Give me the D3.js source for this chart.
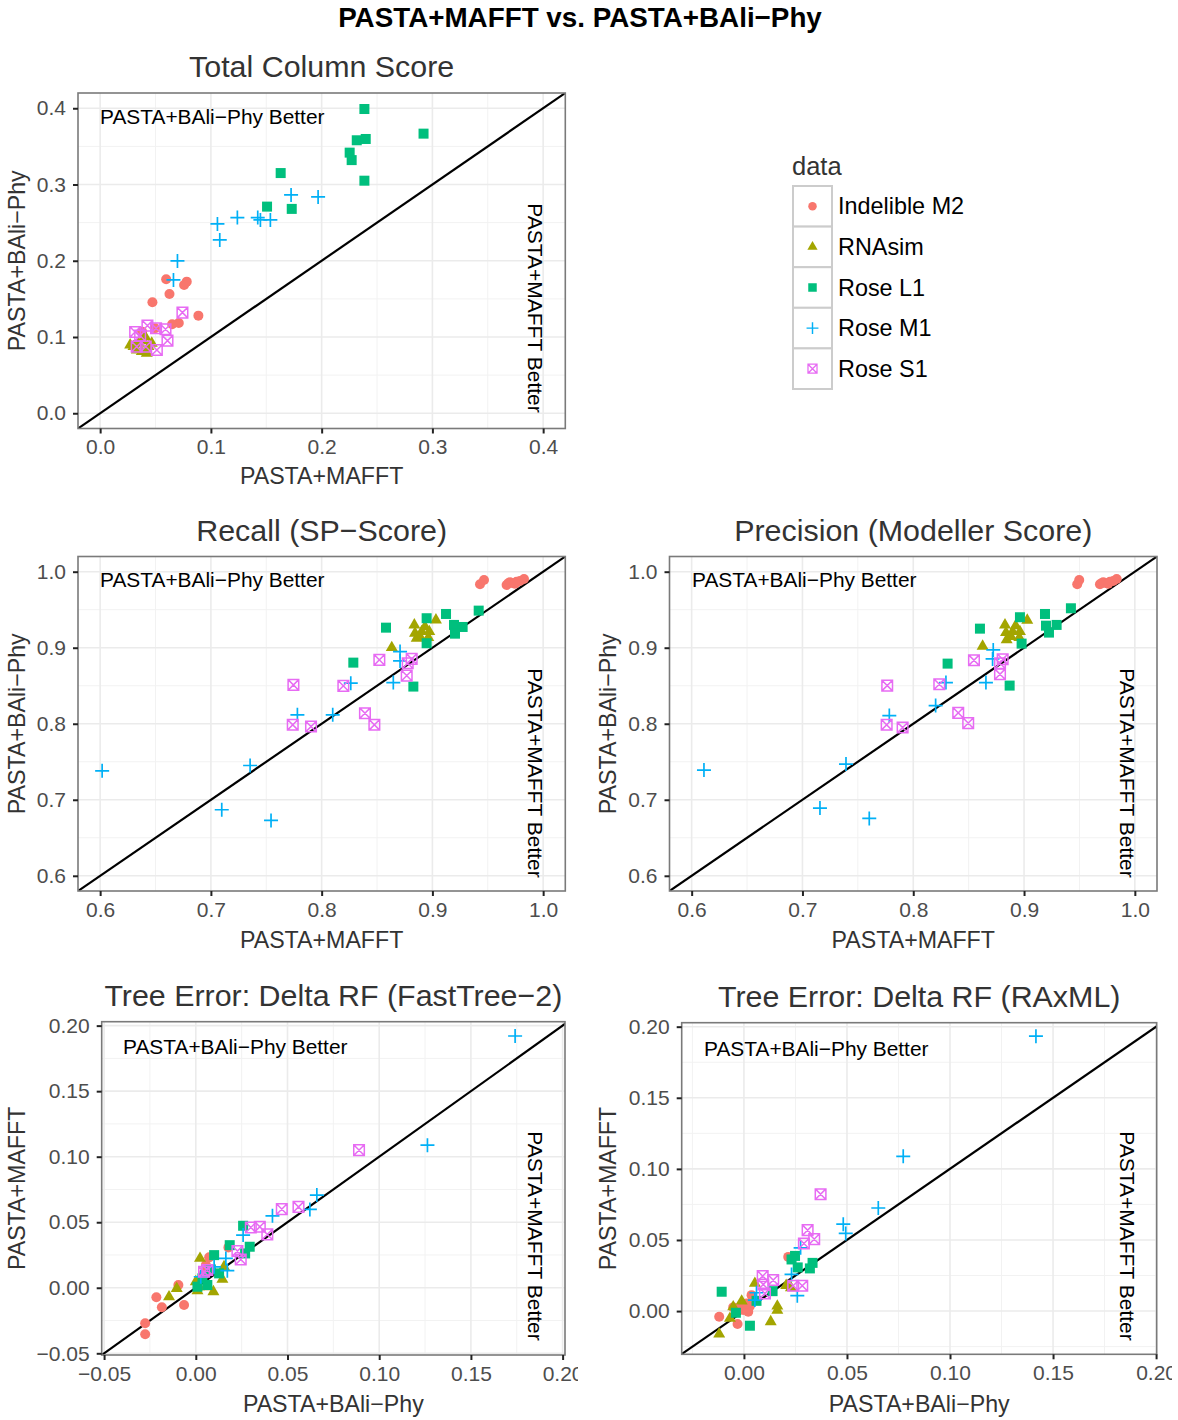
<!DOCTYPE html>
<html>
<head>
<meta charset="utf-8">
<script src="https://cdn.jsdelivr.net/npm/d3@7"></script>
<style>
  html, body { margin: 0; padding: 0; background: #fff; }
  svg { display: block; font-family: "Liberation Sans", Arial, Helvetica, sans-serif; }
</style>
</head>
<body>
<svg id="chart" width="1178" height="1420"></svg>
<script>
// ---- series ----
const seriesNames = ["Indelible M2", "RNAsim", "Rose L1", "Rose M1", "Rose S1"];
const seriesColors = ["#F8766D", "#A3A500", "#00BF7D", "#00B0F6", "#E76BF3"];
const seriesShapes = ["circle", "triangle", "square", "plus", "boxcross"];

// ---- Total Column Score: [PASTA+MAFFT, PASTA+BAli-Phy] ----
const tcM2 = [[0.0596,0.1757],[0.0782,0.1726],[0.0758,0.1683],[0.0626,0.1565],[0.0472,0.1456],
              [0.0887,0.1280],[0.0710,0.1184],[0.0650,0.1167],[0.0496,0.1115],[0.0379,0.1070]];
const tcRNA = [[0.0301,0.0874],[0.0346,0.0918],[0.0391,0.0952],[0.0421,0.0787],[0.0376,0.0808],
               [0.0331,0.0830],[0.0436,0.0874],[0.0466,0.0918],[0.0406,0.1005],[0.0271,0.0896]];
const tcL1 = [[0.2386,0.3990],[0.2920,0.3667],[0.2317,0.3580],[0.2398,0.3597],[0.2253,0.3418],
              [0.2271,0.3320],[0.1630,0.3150],[0.2386,0.3050],[0.1507,0.2710],[0.1730,0.2680]];
const tcM1 = [[0.1724,0.2863],[0.1968,0.2837],[0.1239,0.2566],[0.1423,0.2566],[0.1447,0.2535],
              [0.1537,0.2535],[0.1059,0.2483],[0.1080,0.2273],[0.0698,0.1998],[0.0662,0.1748]];
const tcS1 = [[0.0743,0.1320],[0.0427,0.1149],[0.0505,0.1115],[0.0590,0.1102],[0.0316,0.1066],
              [0.0361,0.1018],[0.0608,0.0952],[0.0330,0.0874],[0.0412,0.0874],[0.0512,0.0830]];

// ---- Recall (SP-Score) ----
const spM2 = [[0.9430,0.9834],[0.9466,0.9890],[0.9670,0.9825],[0.9700,0.9860],[0.9730,0.9847],
              [0.9760,0.9869],[0.9790,0.9878],[0.9827,0.9904],[0.9685,0.9847],[0.9745,0.9842]];
const spRNA = [[0.9032,0.9365],[0.8837,0.9300],[0.8933,0.9277],[0.8843,0.9191],[0.8903,0.9212],
               [0.8972,0.9212],[0.8858,0.9125],[0.8963,0.9133],[0.8633,0.9001],[0.8888,0.9146]];
const spL1 = [[0.9123,0.9444],[0.9418,0.9488],[0.8948,0.9388],[0.8581,0.9264],[0.9195,0.9300],
              [0.9273,0.9273],[0.9204,0.9185],[0.8948,0.9059],[0.8286,0.8804],[0.8828,0.8489]];
const spM1 = [[0.6018,0.7381],[0.7354,0.7451],[0.7098,0.6869],[0.7543,0.6728],[0.7781,0.8117],
              [0.8100,0.8117],[0.8263,0.8534],[0.8647,0.8542],[0.8708,0.8949],[0.8708,0.8827]];
const spS1 = [[0.7745,0.8511],[0.8521,0.8840],[0.8196,0.8498],[0.7739,0.7986],[0.7904,0.7963],
              [0.8391,0.8139],[0.8476,0.7986],[0.8813,0.8853],[0.8777,0.8796],[0.8768,0.8633]];

// ---- Precision (Modeller Score) ----
const prM2 = [[0.9480,0.9834],[0.9498,0.9890],[0.9685,0.9834],[0.9715,0.9860],[0.9745,0.9847],
              [0.9775,0.9869],[0.9805,0.9878],[0.9836,0.9904],[0.9700,0.9847],[0.9760,0.9842]];
const prRNA = [[0.9029,0.9361],[0.8828,0.9300],[0.8924,0.9290],[0.8837,0.9199],[0.8897,0.9212],
               [0.8963,0.9212],[0.8843,0.9103],[0.8957,0.9133],[0.8626,0.9020],[0.8882,0.9146]];
const prL1 = [[0.9189,0.9444],[0.9423,0.9519],[0.8963,0.9401],[0.8602,0.9251],[0.9198,0.9290],
              [0.9294,0.9300],[0.9225,0.9199],[0.8978,0.9054],[0.8310,0.8791],[0.8870,0.8502]];
const prM1 = [[0.6111,0.7390],[0.7393,0.7469],[0.7158,0.6891],[0.7603,0.6754],[0.7784,0.8108],
              [0.8202,0.8239],[0.8295,0.8542],[0.8656,0.8542],[0.8722,0.8971],[0.8716,0.8853]];
const prS1 = [[0.7765,0.8502],[0.8548,0.8836],[0.8235,0.8520],[0.7760,0.7986],[0.7904,0.7950],
              [0.8406,0.8143],[0.8496,0.8008],[0.8807,0.8849],[0.8783,0.8796],[0.8783,0.8652]];

// ---- Delta RF, FastTree-2: [PASTA+BAli-Phy, PASTA+MAFFT] ----
const ftM2 = [[-0.0276,-0.0355],[-0.0276,-0.0271],[-0.0215,-0.0073],[-0.0185,-0.0149],[-0.0095,0.0021],
              [-0.0064,-0.0132],[0.0178,0.0308],[0.0073,0.0232],[0.0055,0.0173],[0.0045,0.0110]];
const ftRNA = [[0.0023,0.0224],[0.0154,0.0160],[0.0145,0.0064],[0.0000,0.0046],[0.0009,-0.0023],
               [0.0096,-0.0030],[-0.0104,-0.0005],[-0.0146,-0.0069],[0.0063,0.0008],[0.0018,0.0008]];
const ftL1 = [[0.0258,0.0473],[0.0185,0.0325],[0.0294,0.0313],[0.0100,0.0249],[0.0269,0.0262],
              [0.0127,0.0110],[0.0036,0.0072],[0.0063,0.0021],[0.0009,0.0008],[0.0082,0.0140]];
const ftM1 = [[0.1741,0.1921],[0.1263,0.1088],[0.0660,0.0707],[0.0622,0.0598],[0.0418,0.0549],
              [0.0258,0.0402],[0.0164,0.0224],[0.0100,0.0160],[0.0172,0.0130],[0.0027,0.0084]];
const ftS1 = [[0.0890,0.1050],[0.0469,0.0600],[0.0560,0.0617],[0.0300,0.0460],[0.0349,0.0465],
              [0.0390,0.0407],[0.0227,0.0280],[0.0245,0.0216],[0.0063,0.0135],[0.0045,0.0122]];

// ---- Delta RF, RAxML: [PASTA+BAli-Phy, PASTA+MAFFT] ----
const rxM2 = [[-0.0120,-0.0040],[-0.0031,-0.0091],[-0.0052,0.0026],[-0.0011,0.0030],[0.0021,-0.0005],
              [0.0029,0.0035],[0.0037,0.0112],[0.0215,0.0381],[-0.0003,0.0007],[0.0013,0.0054]];
const rxRNA = [[0.0053,0.0195],[0.0228,0.0164],[-0.0011,0.0070],[-0.0052,0.0030],[-0.0068,-0.0051],
               [-0.0120,-0.0162],[0.0162,0.0035],[0.0162,0.0005],[0.0130,-0.0075],[0.0205,0.0180]];
const rxL1 = [[0.0248,0.0388],[0.0231,0.0363],[0.0261,0.0307],[0.0333,0.0339],[0.0320,0.0300],
              [0.0139,0.0140],[-0.0108,0.0136],[0.0061,0.0072],[-0.0039,-0.0012],[0.0029,-0.0103]];
const rxM1 = [[0.1417,0.1933],[0.0773,0.1088],[0.0652,0.0725],[0.0482,0.0611],[0.0494,0.0546],
              [0.0275,0.0445],[0.0231,0.0258],[0.0259,0.0108],[0.0061,0.0129],[0.0053,0.0077]];
const rxS1 = [[0.0372,0.0822],[0.0309,0.0569],[0.0341,0.0506],[0.0291,0.0475],[0.0091,0.0246],
              [0.0142,0.0218],[0.0094,0.0187],[0.0239,0.0178],[0.0283,0.0178],[0.0102,0.0124]];

// ---- tick values ----
const ticksTC = [0.0, 0.1, 0.2, 0.3, 0.4];
const ticksScore = [0.6, 0.7, 0.8, 0.9, 1.0];
const ticksFTx = [-0.05, 0.00, 0.05, 0.10, 0.15, 0.20];
const ticksFTy = [-0.05, 0.00, 0.05, 0.10, 0.15, 0.20];
const ticksRXx = [0.00, 0.05, 0.10, 0.15, 0.20];
const ticksRXy = [0.00, 0.05, 0.10, 0.15, 0.20];

// ---- panel layout ----
const panels = [
  { title: "Total Column Score", series: [tcM2, tcRNA, tcL1, tcM1, tcS1],
    xDom: [-0.02, 0.42], yDom: [-0.02, 0.42], left: 78, right: 565.3, top: 93, bottom: 428.5,
    xTicks: ticksTC, yTicks: ticksTC, fmt: d3.format(".1f"),
    xTitle: "PASTA+MAFFT", yTitle: "PASTA+BAli\u2212Phy", yTitleX: 17, xTitleY: 484,
    betterX: 100, betterY: 117, sideX: 535, sideY: 308, clipW: 578 },
  { title: "Recall (SP\u2212Score)", series: [spM2, spRNA, spL1, spM1, spS1],
    xDom: [0.58, 1.02], yDom: [0.58, 1.02], left: 78, right: 565.3, top: 556.5, bottom: 891,
    xTicks: ticksScore, yTicks: ticksScore, fmt: d3.format(".1f"),
    xTitle: "PASTA+MAFFT", yTitle: "PASTA+BAli\u2212Phy", yTitleX: 17, xTitleY: 948,
    betterX: 100, betterY: 580, sideX: 535, sideY: 773, clipW: 578 },
  { title: "Precision (Modeller Score)", series: [prM2, prRNA, prL1, prM1, prS1],
    xDom: [0.58, 1.02], yDom: [0.58, 1.02], left: 669.5, right: 1157, top: 556.5, bottom: 891,
    xTicks: ticksScore, yTicks: ticksScore, fmt: d3.format(".1f"),
    xTitle: "PASTA+MAFFT", yTitle: "PASTA+BAli\u2212Phy", yTitleX: 608, xTitleY: 948,
    betterX: 692, betterY: 580, sideX: 1127, sideY: 773, clipW: 1172 },
  { title: "Tree Error: Delta RF (FastTree\u22122)", series: [ftM2, ftRNA, ftL1, ftM1, ftS1],
    xDom: [-0.0513, 0.2013], yDom: [-0.0513, 0.203], left: 101.7, right: 565, top: 1021.7, bottom: 1355,
    xTicks: ticksFTx, yTicks: ticksFTy, fmt: d3.format(".2f"),
    xTitle: "PASTA+BAli\u2212Phy", yTitle: "PASTA+MAFFT", yTitleX: 17, xTitleY: 1412,
    betterX: 123, betterY: 1047, sideX: 535, sideY: 1236, clipW: 578 },
  { title: "Tree Error: Delta RF (RAxML)", series: [rxM2, rxRNA, rxL1, rxM1, rxS1],
    xDom: [-0.0302, 0.2003], yDom: [-0.0304, 0.2028], left: 681.7, right: 1156.7, top: 1022.7, bottom: 1354.3,
    xTicks: ticksRXx, yTicks: ticksRXy, fmt: d3.format(".2f"),
    xTitle: "PASTA+BAli\u2212Phy", yTitle: "PASTA+MAFFT", yTitleX: 608, xTitleY: 1412,
    betterX: 704, betterY: 1049, sideX: 1127, sideY: 1236, clipW: 1172 }
];

const svg = d3.select("#chart");
const defs = svg.append("defs");
const fmtMinus = f => v => f(v).replace("-", "\u2212");

// ---- point glyphs (ggplot shapes 16, 17, 15, 3, 7) ----
function drawGlyph(g, shape, color, k) {
  if (shape === "circle") {
    g.append("circle").attr("r", 5 * k).attr("fill", color);
  } else if (shape === "triangle") {
    const s = 12 * k, h = s * Math.sqrt(3) / 2;
    g.append("path").attr("d", `M0,${-h * 2 / 3}L${s / 2},${h / 3}L${-s / 2},${h / 3}Z`).attr("fill", color);
  } else if (shape === "square") {
    const s = 10 * k;
    g.append("rect").attr("x", -s / 2).attr("y", -s / 2).attr("width", s).attr("height", s).attr("fill", color);
  } else if (shape === "plus") {
    const r = 7 * k;
    g.append("path").attr("d", `M${-r},0H${r}M0,${-r}V${r}`)
      .attr("stroke", color).attr("stroke-width", 1.7 * Math.max(k, 0.8)).attr("fill", "none");
  } else if (shape === "boxcross") {
    const r = 5.3 * k;
    g.append("path").attr("d", `M${-r},${-r}H${r}V${r}H${-r}Z M${-r},${-r}L${r},${r} M${r},${-r}L${-r},${r}`)
      .attr("stroke", color).attr("stroke-width", 1.5 * Math.max(k, 0.8)).attr("fill", "none");
  }
}

// ---- main title ----
svg.append("text").attr("x", 580).attr("y", 27).attr("text-anchor", "middle")
  .attr("font-size", 27.8).attr("font-weight", "bold").attr("fill", "#000")
  .text("PASTA+MAFFT vs. PASTA+BAli\u2212Phy");

panels.forEach((p, i) => {
  const x = d3.scaleLinear().domain(p.xDom).range([p.left, p.right]);
  const y = d3.scaleLinear().domain(p.yDom).range([p.bottom, p.top]);
  const root = svg.append("g");
  defs.append("clipPath").attr("id", "cell" + i)
    .append("rect").attr("x", 0).attr("y", 0).attr("width", p.clipW).attr("height", 1420);
  root.attr("clip-path", `url(#cell${i})`);
  defs.append("clipPath").attr("id", "panel" + i)
    .append("rect").attr("x", p.left).attr("y", p.top)
    .attr("width", p.right - p.left).attr("height", p.bottom - p.top);

  const w = p.right - p.left, h = p.bottom - p.top;
  root.append("rect").attr("x", p.left).attr("y", p.top).attr("width", w).attr("height", h).attr("fill", "#fff");

  // grid: minor lines halfway between majors, then majors
  const step = p.xTicks[1] - p.xTicks[0];
  const minorX = d3.range(p.xTicks[0] - step / 2, p.xDom[1], step).filter(v => v > p.xDom[0] && v < p.xDom[1]);
  const stepY = p.yTicks[1] - p.yTicks[0];
  const minorY = d3.range(p.yTicks[0] - stepY / 2, p.yDom[1], stepY).filter(v => v > p.yDom[0] && v < p.yDom[1]);
  const grid = root.append("g");
  grid.selectAll(".mnx").data(minorX).join("line")
    .attr("x1", d => x(d)).attr("x2", d => x(d)).attr("y1", p.top).attr("y2", p.bottom)
    .attr("stroke", "#F2F2F2").attr("stroke-width", 1);
  grid.selectAll(".mny").data(minorY).join("line")
    .attr("y1", d => y(d)).attr("y2", d => y(d)).attr("x1", p.left).attr("x2", p.right)
    .attr("stroke", "#F2F2F2").attr("stroke-width", 1);
  grid.selectAll(".mjx").data(p.xTicks).join("line")
    .attr("x1", d => x(d)).attr("x2", d => x(d)).attr("y1", p.top).attr("y2", p.bottom)
    .attr("stroke", "#EBEBEB").attr("stroke-width", 1.6);
  grid.selectAll(".mjy").data(p.yTicks).join("line")
    .attr("y1", d => y(d)).attr("y2", d => y(d)).attr("x1", p.left).attr("x2", p.right)
    .attr("stroke", "#EBEBEB").attr("stroke-width", 1.6);

  // y = x reference line
  const lo = Math.min(p.xDom[0], p.yDom[0]) - 0.1, hi = Math.max(p.xDom[1], p.yDom[1]) + 0.1;
  root.append("line").attr("clip-path", `url(#panel${i})`)
    .attr("x1", x(lo)).attr("y1", y(lo)).attr("x2", x(hi)).attr("y2", y(hi))
    .attr("stroke", "#000").attr("stroke-width", 2.2);

  // points
  const pts = root.append("g").attr("clip-path", `url(#panel${i})`);
  p.series.forEach((ser, si) => {
    ser.forEach(d => {
      const g = pts.append("g").attr("transform", `translate(${x(d[0])},${y(d[1])})`);
      drawGlyph(g, seriesShapes[si], seriesColors[si], 1);
    });
  });

  // annotations
  root.append("text").attr("x", p.betterX).attr("y", p.betterY).attr("dy", "0.35em")
    .attr("font-size", 20.9).attr("fill", "#000").text("PASTA+BAli\u2212Phy Better");
  root.append("text").attr("transform", `translate(${p.sideX},${p.sideY}) rotate(90)`)
    .attr("text-anchor", "middle").attr("dy", "0.35em")
    .attr("font-size", 21).attr("fill", "#000").text("PASTA+MAFFT Better");

  // panel border
  root.append("rect").attr("x", p.left).attr("y", p.top).attr("width", w).attr("height", h)
    .attr("fill", "none").attr("stroke", "#7A7A7A").attr("stroke-width", 1.6);

  // axes
  const f = fmtMinus(p.fmt);
  const ax = root.append("g").attr("transform", `translate(0,${p.bottom})`)
    .call(d3.axisBottom(x).tickValues(p.xTicks).tickFormat(f).tickSize(5).tickPadding(6));
  const ay = root.append("g").attr("transform", `translate(${p.left},0)`)
    .call(d3.axisLeft(y).tickValues(p.yTicks).tickFormat(f).tickSize(5).tickPadding(7));
  [ax, ay].forEach(a => {
    a.select(".domain").remove();
    a.selectAll(".tick line").attr("stroke", "#222").attr("stroke-width", 2);
    a.selectAll(".tick text").attr("fill", "#4D4D4D").attr("font-size", 21)
      .attr("font-family", "'Liberation Sans', Arial, Helvetica, sans-serif");
  });

  // titles
  root.append("text").attr("x", (p.left + p.right) / 2).attr("y", p.top - 16)
    .attr("text-anchor", "middle").attr("font-size", 30.4).attr("fill", "#333").text(p.title);
  root.append("text").attr("x", (p.left + p.right) / 2).attr("y", p.xTitleY)
    .attr("text-anchor", "middle").attr("font-size", 23.2).attr("fill", "#333").text(p.xTitle);
  root.append("text").attr("transform", `translate(${p.yTitleX},${(p.top + p.bottom) / 2}) rotate(-90)`)
    .attr("text-anchor", "middle").attr("dy", "0.35em").attr("font-size", 23.2).attr("fill", "#333").text(p.yTitle);
});

// ---- legend ----
const legend = svg.append("g");
legend.append("text").attr("x", 792).attr("y", 175).attr("font-size", 25.5).attr("fill", "#333").text("data");
seriesNames.forEach((name, i) => {
  const ky = 186 + i * 40.6;
  legend.append("rect").attr("x", 793).attr("y", ky).attr("width", 39).attr("height", 40.6)
    .attr("fill", "#fff").attr("stroke", "#CCCCCC").attr("stroke-width", 2);
  const g = legend.append("g").attr("transform", `translate(812.5,${ky + 20.3})`);
  drawGlyph(g, seriesShapes[i], seriesColors[i], 0.85);
  legend.append("text").attr("x", 838).attr("y", ky + 20.3).attr("dy", "0.35em")
    .attr("font-size", 23.4).attr("fill", "#000").text(name);
});
</script>
</body>
</html>
